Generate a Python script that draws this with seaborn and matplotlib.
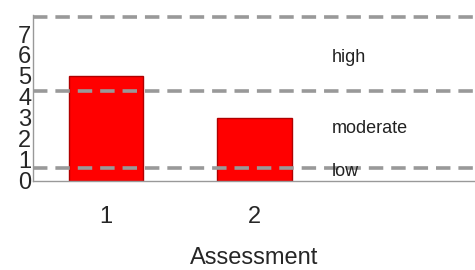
import matplotlib
matplotlib.use("Agg")
import matplotlib.pyplot as plt
import seaborn as sns
import pandas as pd

# data
assessments = ["1", "2"]
scores = [5.0, 3.0]
threshold_levels = [0.62, 4.3, 7.8]
zone_labels = ["low", "moderate", "high"]
zone_label_y = [0.45, 2.5, 5.9]

df = pd.DataFrame({"Assessment": assessments, "Score": scores})

sns.set_style("white")
plt.rcParams['font.family'] = ['Liberation Sans', 'DejaVu Sans']

fig = plt.figure(figsize=(4.75, 2.7), dpi=100)
ax = fig.add_axes([0.069, 0.33, 0.931, 0.614])

sns.barplot(data=df, x="Assessment", y="Score", ax=ax, color="#ff0000",
            width=0.5, edgecolor="#b00000", linewidth=1, saturation=1)

for lvl in threshold_levels:
    ax.axhline(lvl, color="#999999", linestyle=(0, (4, 2.2)), linewidth=2.6, zorder=3)

for lab, yy in zip(zone_labels, zone_label_y):
    ax.text(1.52, yy, lab, fontsize=13, va="center", ha="left", color="#222222", zorder=4)

ax.set_xlim(-0.49, 2.48)
ax.set_ylim(0, 7.9)
ax.set_yticks(range(0, 8))
ax.tick_params(axis="y", direction="in", length=4, labelsize=17, pad=1, color="#888888")
ax.tick_params(axis="x", direction="out", length=4, labelsize=17, pad=14, color="#888888")
ax.set_xlabel("Assessment", fontsize=17, labelpad=14)
ax.set_ylabel("")

sns.despine(ax=ax)
for s in ["left", "bottom"]:
    ax.spines[s].set_color("#999999")
    ax.spines[s].set_linewidth(1)

fig.savefig("out.png", dpi=100)
